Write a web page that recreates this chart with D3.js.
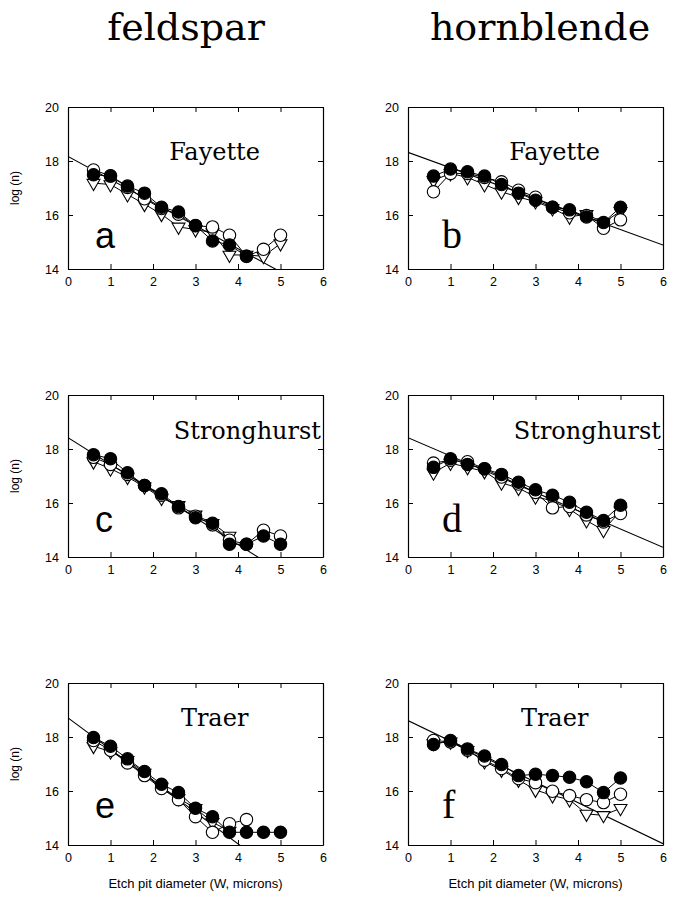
<!DOCTYPE html>
<html>
<head>
<meta charset="utf-8">
<script src="https://cdn.jsdelivr.net/npm/d3@7"></script>
<style>
  body { margin: 0; background: #fff; }
  svg { display: block; }
</style>
</head>
<body>
<svg id="chart" width="684" height="899"></svg>
<script>
// etch pit diameter classes (W, microns)
const diam = [0.6, 1.0, 1.4, 1.8, 2.2, 2.6, 3.0, 3.4, 3.8, 4.2, 4.6, 5.0];
const xTicks = [0, 1, 2, 3, 4, 5, 6];
const yTicks = [14, 16, 18, 20];
const columnTitles = ["feldspar", "hornblende"];
const siteNames = ["Fayette", "Stronghurst", "Traer"];
const panelLetters = ["a", "b", "c", "d", "e", "f"];

// log(n) values, null = not plotted
const filledA = [17.49, 17.44, 17.07, 16.81, 16.29, 16.11, 15.61, 15.04, 14.89, 14.47, null, null];
const openA   = [17.67, 17.45, 17.02, 16.60, 16.24, 16.03, 15.60, 15.56, 15.25, 14.47, 14.73, 15.25];
const triA    = [17.18, 17.13, 16.76, 16.40, 16.03, 15.56, 15.46, 15.35, 14.52, 14.52, 14.47, 14.94];
const fitA    = [18.17, 13.04];

const filledB = [17.44, 17.70, 17.60, 17.44, 17.13, 16.81, 16.55, 16.29, 16.19, 15.93, 15.72, 16.29];
const openB   = [16.86, 17.54, 17.54, 17.39, 17.23, 16.92, 16.66, 16.29, 16.08, 15.98, 15.51, 15.82];
const triB    = [17.28, 17.54, 17.39, 17.13, 16.86, 16.66, 16.50, 16.24, 15.93, 16.03, 15.72, 16.14];
const fitB    = [18.32, 14.89];

const filledC = [17.79, 17.64, 17.12, 16.65, 16.34, 15.87, 15.45, 15.25, 14.47, 14.47, 14.78, 14.47];
const openC   = [17.69, 17.43, 17.06, 16.65, 16.29, 15.82, 15.51, 15.19, 14.62, 14.47, 14.99, 14.78];
const triC    = [17.53, 17.27, 16.96, 16.60, 16.18, 15.92, 15.56, 15.25, 14.78, null, null, null];
const fitC    = [18.42, 12.48];

const filledD = [17.32, 17.64, 17.43, 17.27, 17.06, 16.77, 16.49, 16.29, 16.03, 15.66, 15.35, 15.92];
const openD   = [17.48, 17.58, 17.53, 17.27, 16.96, 16.70, 16.39, 15.82, 15.87, 15.56, 15.30, 15.61];
const triD    = [17.12, 17.48, 17.32, 17.17, 16.75, 16.55, 16.23, 16.08, 15.77, 15.35, 14.99, 15.71];
const fitD    = [18.42, 14.36];

const filledE = [17.98, 17.66, 17.19, 16.72, 16.25, 15.94, 15.36, 15.05, 14.47, 14.47, 14.47, 14.47];
const openE   = [17.87, 17.51, 17.04, 16.57, 16.09, 15.68, 15.05, 14.47, 14.79, 14.94, null, null];
const triE    = [17.66, 17.46, 17.14, 16.67, 16.15, 15.73, 15.36, 14.84, 14.52, null, null, null];
const fitE    = [18.71, 11.71];

const filledF = [17.72, 17.87, 17.56, 17.30, 16.98, 16.57, 16.62, 16.57, 16.51, 16.34, 15.94, 16.48];
const openF   = [17.87, 17.82, 17.51, 17.14, 16.83, 16.46, 16.31, 15.99, 15.83, 15.68, 15.57, 15.88];
const triF    = [17.77, 17.82, 17.51, 17.09, 16.78, 16.41, 16.04, 15.83, 15.68, 15.15, 15.10, 15.36];
const fitF    = [18.61, 14.05];

const panels = [
  {filled: filledA, open: openA, tri: triA, fit: fitA},
  {filled: filledB, open: openB, tri: triB, fit: fitB},
  {filled: filledC, open: openC, tri: triC, fit: fitC},
  {filled: filledD, open: openD, tri: triD, fit: fitD},
  {filled: filledE, open: openE, tri: triE, fit: fitE},
  {filled: filledF, open: openF, tri: triF, fit: fitF}
];

// layout
const colLeft = [68, 408];
const rowTop = [107, 395, 683];
const pw = 255, ph = 162;
const siteLabelDy = [53, 44, 43];
const letterDy = [21, 25, 27];

const svg = d3.select("#chart");
const sans = "'Liberation Sans', Arial, sans-serif";
const slab = "'DejaVu Serif', serif";
const serif = "'Liberation Serif', 'Times New Roman', serif";

columnTitles.forEach((t, i) => {
  svg.append("text")
    .attr("x", [186, 540][i]).attr("y", 40)
    .attr("text-anchor", "middle")
    .style("font-family", slab).style("font-size", "38px")
    .text(t);
});

const x = d3.scaleLinear().domain([0, 6]).range([0, pw]);
const y = d3.scaleLinear().domain([14, 20]).range([ph, 0]);
const tri = d3.symbol().type(d3.symbolTriangle).size(72);

panels.forEach((p, i) => {
  const col = i % 2, row = Math.floor(i / 2);
  const g = svg.append("g")
    .attr("transform", `translate(${colLeft[col]},${rowTop[row]})`);

  g.append("clipPath").attr("id", "clip" + i)
    .append("rect").attr("width", pw).attr("height", ph);

  // frame axes, ticks pointing inward
  g.append("g").attr("transform", `translate(0,${ph})`)
    .call(d3.axisBottom(x).tickValues(xTicks).tickFormat(d3.format("d"))
      .tickSize(-5).tickSizeOuter(0).tickPadding(8));
  g.append("g")
    .call(d3.axisTop(x).tickValues(xTicks).tickSize(-5).tickSizeOuter(0).tickFormat(""));
  g.append("g")
    .call(d3.axisLeft(y).tickValues(yTicks).tickFormat(d3.format("d"))
      .tickSize(-5).tickSizeOuter(0).tickPadding(9));
  g.append("g").attr("transform", `translate(${pw},0)`)
    .call(d3.axisRight(y).tickValues(yTicks).tickSize(-5).tickSizeOuter(0).tickFormat(""));
  g.selectAll(".domain").attr("stroke", "#000").attr("stroke-width", 1.2);
  g.selectAll(".tick line").attr("stroke", "#000");
  g.selectAll(".tick text")
    .style("font-family", sans).style("font-size", "12.5px").attr("fill", "#000");

  if (col === 0) {
    g.append("text")
      .attr("transform", `translate(-49,${ph / 2}) rotate(-90)`)
      .attr("text-anchor", "middle")
      .style("font-family", sans).style("font-size", "12px")
      .text("log (n)");
  }
  if (row === 2) {
    g.append("text")
      .attr("x", pw / 2).attr("y", ph + 43)
      .attr("text-anchor", "middle")
      .style("font-family", sans).style("font-size", "13px")
      .text("Etch pit diameter (W, microns)");
  }

  // site name and panel letter
  const sl = g.append("text")
    .attr("y", siteLabelDy[row])
    .style("font-family", slab).style("font-size", "24px")
    .text(siteNames[row]);
  if (row === 1) sl.attr("x", pw - 2).attr("text-anchor", "end");
  else sl.attr("x", x(3.45)).attr("text-anchor", "middle");

  g.append("text")
    .attr("x", col === 0 ? 27 : 34).attr("y", ph - letterDy[row])
    .style("font-family", col === 0 ? sans : serif)
    .style("font-size", col === 0 ? "36px" : "40px")
    .text(panelLetters[i]);

  // regression line
  g.append("line")
    .attr("clip-path", `url(#clip${i})`)
    .attr("x1", x(0)).attr("y1", y(p.fit[0]))
    .attr("x2", x(6)).attr("y2", y(p.fit[1]))
    .attr("stroke", "#000").attr("stroke-width", 1.1);

  const line = d3.line()
    .defined(d => d[1] != null)
    .x(d => x(d[0])).y(d => y(d[1]));
  const pts = vals => diam.map((d, k) => [d, vals[k]]);

  [p.tri, p.open, p.filled].forEach(vals => {
    g.append("path").datum(pts(vals))
      .attr("d", line).attr("fill", "none")
      .attr("stroke", "#000").attr("stroke-width", 1);
  });

  g.selectAll(".tri").data(pts(p.tri).filter(d => d[1] != null)).enter()
    .append("path")
    .attr("transform", d => `translate(${x(d[0])},${y(d[1])}) rotate(180)`)
    .attr("d", tri)
    .attr("fill", "#fff").attr("stroke", "#000").attr("stroke-width", 1.1);

  g.selectAll(".open").data(pts(p.open).filter(d => d[1] != null)).enter()
    .append("circle")
    .attr("cx", d => x(d[0])).attr("cy", d => y(d[1])).attr("r", 6.2)
    .attr("fill", "#fff").attr("stroke", "#000").attr("stroke-width", 1.1);

  g.selectAll(".filled").data(pts(p.filled).filter(d => d[1] != null)).enter()
    .append("circle")
    .attr("cx", d => x(d[0])).attr("cy", d => y(d[1])).attr("r", 6.2)
    .attr("fill", "#000").attr("stroke", "#000").attr("stroke-width", 1.1);
});
</script>
</body>
</html>
